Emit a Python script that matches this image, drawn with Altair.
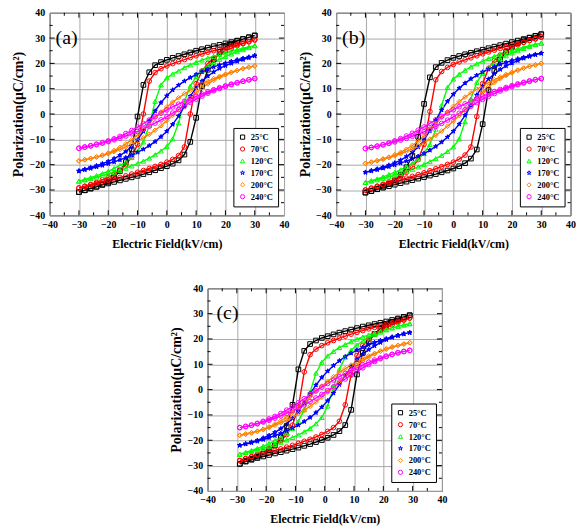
import altair as alt
import pandas as pd

TEMPS = ["25°C", "70°C", "120°C", "170°C", "200°C", "240°C"]
COLORS = ["#000000", "#ff0000", "#00ff00", "#0000ff", "#ff8000", "#ff00ff"]
STAR = "M0,-1L0.2245,-0.309L0.9511,-0.309L0.3633,0.118L0.5878,0.809L0,0.382L-0.5878,0.809L-0.3633,0.118L-0.9511,-0.309L-0.2245,-0.309Z"
SHAPES = ["square", "circle", "triangle-up", STAR, "diamond", "circle"]
AXIS_TICKS = [-40, -30, -20, -10, 0, 10, 20, 30, 40]
MAJOR_POS = [-30, -20, -10, 0, 10, 20, 30]
MINOR_POS = [-35, -25, -15, -5, 5, 15, 25, 35]

# electric field grids (kV/cm)
E_AB = list(range(-30, 31, 2))
E_C = list(range(-29, 30, 2))

# ---- panel (a): lower branch / upper branch, both listed for ascending E
a25_lo = [-30.8, -30.1, -29.4, -28.7, -28.0, -27.4, -26.8, -26.2, -25.6, -25.0, -24.4, -23.7, -23.0, -22.2, -21.4, -20.6, -19.6, -18.3, -16.0, -11.0, -1.5, 11.0, 17.5, 21.5, 24.5, 26.5, 27.8, 28.8, 29.6, 30.3, 31.0]
a25_up = [-30.8, -30.1, -29.4, -28.7, -27.8, -26.8, -25.0, -22.5, -19.0, -14.0, -1.0, 11.5, 16.5, 19.3, 20.5, 21.4, 22.2, 22.9, 23.6, 24.3, 25.0, 25.6, 26.2, 26.8, 27.3, 27.9, 28.4, 29.0, 29.6, 30.3, 31.0]
a70_lo = [-29.2, -28.6, -28.0, -27.4, -26.8, -26.2, -25.6, -25.0, -24.4, -23.7, -23.0, -22.3, -21.5, -20.7, -19.9, -19.0, -17.9, -16.4, -13.0, 0.0, 12.0, 17.0, 20.0, 22.0, 23.7, 25.0, 26.0, 27.0, 27.8, 28.5, 29.3]
a70_up = [-29.2, -28.5, -27.8, -27.0, -26.0, -25.0, -23.7, -22.0, -20.0, -17.0, -12.0, 0.0, 13.0, 16.4, 17.9, 19.0, 19.9, 20.7, 21.5, 22.3, 23.0, 23.7, 24.4, 25.0, 25.6, 26.2, 26.8, 27.4, 28.0, 28.6, 29.3]
a120_lo = [-26.5, -26.0, -25.5, -24.9, -24.3, -23.7, -23.0, -22.2, -21.4, -20.5, -19.6, -18.6, -17.4, -16.1, -14.6, -12.8, -9.8, -3.5, 5.0, 11.0, 14.8, 17.2, 19.0, 20.4, 21.6, 22.7, 23.7, 24.6, 25.4, 26.2, 27.0]
a120_up = [-26.5, -25.8, -25.1, -24.3, -23.5, -22.6, -21.5, -20.3, -19.0, -17.2, -14.8, -11.0, -4.5, 5.0, 11.5, 14.3, 15.8, 17.0, 18.3, 19.4, 20.4, 21.3, 22.1, 22.8, 23.5, 24.2, 24.8, 25.4, 26.0, 26.5, 27.0]
a170_lo = [-22.5, -22.0, -21.5, -20.9, -20.3, -19.6, -18.9, -18.1, -17.2, -16.2, -15.1, -13.9, -12.5, -10.9, -9.0, -6.8, -4.1, -0.8, 3.0, 7.0, 10.5, 13.0, 15.0, 16.6, 18.0, 19.1, 20.0, 20.8, 21.5, 22.2, 23.0]
a170_up = [-22.5, -21.8, -21.1, -20.4, -19.6, -18.7, -17.6, -16.3, -14.8, -12.8, -10.2, -6.8, -2.7, 1.2, 4.5, 7.2, 9.5, 11.4, 13.0, 14.4, 15.6, 16.7, 17.7, 18.6, 19.4, 20.1, 20.8, 21.4, 22.0, 22.5, 23.0]
a200_lo = [-18.5, -18.1, -17.6, -17.0, -16.4, -15.7, -14.9, -14.0, -13.0, -11.9, -10.7, -9.4, -8.0, -6.4, -4.6, -2.6, -0.5, 1.7, 4.0, 6.3, 8.4, 10.3, 11.9, 13.3, 14.5, 15.5, 16.4, 17.2, 17.9, 18.5, 19.0]
a200_up = [-18.5, -18.0, -17.5, -16.9, -16.2, -15.4, -14.4, -13.2, -11.8, -10.2, -8.3, -6.0, -3.6, -1.3, 0.8, 2.8, 4.7, 6.4, 8.0, 9.4, 10.7, 11.9, 13.0, 14.0, 14.9, 15.7, 16.5, 17.2, 17.9, 18.5, 19.0]
a240_lo = [-13.5, -13.1, -12.6, -12.1, -11.5, -10.9, -10.2, -9.5, -8.7, -7.8, -6.9, -5.9, -4.8, -3.6, -2.3, -1.0, 0.4, 1.8, 3.2, 4.6, 5.9, 7.1, 8.2, 9.2, 10.1, 10.9, 11.6, 12.3, 12.9, 13.5, 14.0]
a240_up = [-13.5, -13.0, -12.5, -11.9, -11.3, -10.6, -9.8, -8.8, -7.7, -6.5, -5.2, -3.8, -2.4, -1.0, 0.3, 1.6, 2.8, 3.9, 5.0, 6.0, 7.0, 7.9, 8.8, 9.6, 10.4, 11.1, 11.8, 12.4, 13.0, 13.5, 14.0]

# ---- panel (b)
b25_lo = [-31.0, -30.4, -29.7, -29.1, -28.5, -27.9, -27.3, -26.7, -26.1, -25.5, -24.9, -24.3, -23.7, -23.0, -22.3, -21.5, -20.6, -19.4, -17.6, -14.0, -4.0, 9.5, 17.0, 21.5, 24.5, 26.6, 28.0, 29.2, 30.1, 30.9, 31.5]
b25_up = [-31.0, -30.4, -29.6, -28.7, -27.6, -26.2, -24.0, -21.0, -16.5, -9.0, 4.0, 14.5, 18.5, 20.2, 21.3, 22.2, 22.9, 23.6, 24.2, 24.8, 25.4, 26.0, 26.6, 27.2, 27.8, 28.4, 29.0, 29.6, 30.2, 30.8, 31.5]
b70_lo = [-30.0, -29.3, -28.6, -28.0, -27.3, -26.7, -26.0, -25.3, -24.6, -23.9, -23.2, -22.4, -21.6, -20.8, -19.9, -19.0, -17.8, -16.2, -13.0, -1.0, 12.0, 18.0, 21.2, 23.3, 25.0, 26.3, 27.4, 28.3, 29.1, 29.8, 30.5]
b70_up = [-30.0, -29.3, -28.5, -27.7, -26.8, -25.8, -24.6, -23.0, -21.0, -18.0, -12.0, 1.0, 13.5, 16.8, 18.4, 19.6, 20.6, 21.4, 22.2, 23.0, 23.8, 24.5, 25.2, 25.9, 26.6, 27.2, 27.8, 28.4, 29.0, 29.6, 30.3]
b120_lo = [-27.0, -26.5, -26.0, -25.4, -24.8, -24.1, -23.4, -22.6, -21.8, -20.9, -19.9, -18.8, -17.6, -16.3, -14.8, -13.0, -9.8, -3.0, 6.0, 12.5, 16.0, 18.5, 20.3, 21.8, 23.0, 24.1, 25.0, 25.9, 26.7, 27.4, 28.0]
b120_up = [-27.0, -26.3, -25.6, -24.8, -23.9, -23.0, -22.0, -20.8, -19.5, -17.8, -15.5, -12.0, -6.0, 3.5, 10.5, 13.8, 15.7, 17.3, 18.6, 19.8, 20.9, 21.9, 22.8, 23.6, 24.4, 25.1, 25.8, 26.4, 27.0, 27.5, 28.0]
b170_lo = [-23.0, -22.5, -22.0, -21.4, -20.8, -20.1, -19.4, -18.6, -17.7, -16.7, -15.6, -14.3, -12.8, -11.1, -9.1, -6.8, -4.0, -0.5, 3.4, 7.5, 11.0, 13.8, 15.9, 17.6, 19.0, 20.1, 21.1, 22.0, 22.7, 23.4, 24.0]
b170_up = [-23.0, -22.4, -21.7, -21.0, -20.2, -19.3, -18.2, -16.8, -15.1, -13.0, -10.2, -6.6, -2.4, 1.6, 5.0, 7.8, 10.2, 12.2, 13.9, 15.3, 16.6, 17.7, 18.7, 19.6, 20.4, 21.1, 21.8, 22.4, 23.0, 23.5, 24.0]
b200_lo = [-19.5, -19.0, -18.5, -17.9, -17.2, -16.5, -15.7, -14.8, -13.8, -12.6, -11.3, -9.9, -8.4, -6.7, -4.8, -2.8, -0.6, 1.7, 4.1, 6.5, 8.7, 10.7, 12.4, 13.9, 15.2, 16.3, 17.3, 18.1, 18.8, 19.4, 20.0]
b200_up = [-19.5, -19.0, -18.4, -17.7, -17.0, -16.1, -15.1, -13.9, -12.4, -10.7, -8.6, -6.2, -3.7, -1.3, 0.9, 3.0, 4.9, 6.7, 8.3, 9.8, 11.2, 12.4, 13.6, 14.6, 15.6, 16.5, 17.3, 18.1, 18.8, 19.4, 20.0]
b240_lo = [-13.6, -13.2, -12.7, -12.2, -11.6, -11.0, -10.3, -9.6, -8.8, -7.9, -7.0, -6.0, -4.9, -3.7, -2.4, -1.1, 0.3, 1.7, 3.1, 4.5, 5.8, 7.0, 8.1, 9.1, 10.0, 10.8, 11.6, 12.3, 12.9, 13.5, 14.0]
b240_up = [-13.6, -13.2, -12.7, -12.1, -11.4, -10.6, -9.7, -8.7, -7.6, -6.4, -5.1, -3.7, -2.3, -0.9, 0.4, 1.7, 2.9, 4.0, 5.1, 6.1, 7.1, 8.0, 8.9, 9.7, 10.5, 11.2, 11.9, 12.5, 13.1, 13.6, 14.0]

# ---- panel (c)
c25_lo = [-29.3, -28.4, -27.7, -27.0, -26.4, -25.8, -25.2, -24.7, -24.1, -23.5, -22.9, -22.2, -21.5, -20.7, -19.9, -19.0, -17.9, -16.4, -14.0, -8.0, 6.0, 14.5, 19.0, 22.0, 24.0, 25.6, 26.8, 27.8, 28.6, 29.4]
c25_up = [-29.3, -28.3, -27.4, -26.5, -25.4, -24.0, -22.0, -19.0, -14.5, -6.0, 8.0, 15.3, 18.0, 19.4, 20.4, 21.1, 21.8, 22.5, 23.1, 23.7, 24.3, 24.9, 25.4, 25.9, 26.4, 26.9, 27.5, 28.1, 28.7, 29.3]
c70_lo = [-28.0, -27.3, -26.6, -25.9, -25.3, -24.7, -24.0, -23.4, -22.7, -22.0, -21.2, -20.4, -19.6, -18.7, -17.7, -16.5, -15.0, -12.5, -6.0, 6.0, 13.5, 17.5, 20.0, 21.9, 23.4, 24.6, 25.6, 26.5, 27.4, 28.3]
c70_up = [-28.0, -27.2, -26.4, -25.5, -24.5, -23.4, -22.0, -20.2, -17.8, -14.0, -7.0, 7.0, 13.8, 16.0, 17.4, 18.5, 19.4, 20.3, 21.1, 21.9, 22.6, 23.3, 24.0, 24.6, 25.2, 25.8, 26.4, 27.0, 27.6, 28.3]
c120_lo = [-25.5, -25.0, -24.4, -23.8, -23.1, -22.4, -21.6, -20.8, -19.9, -18.9, -17.9, -16.7, -15.3, -13.5, -11.0, -6.5, 1.0, 8.0, 12.8, 15.6, 17.6, 19.2, 20.5, 21.7, 22.7, 23.6, 24.4, 25.1, 25.6, 26.1]
c120_up = [-25.5, -24.8, -24.0, -23.2, -22.3, -21.3, -20.1, -18.8, -17.3, -15.3, -12.5, -8.0, -1.0, 6.5, 10.8, 13.3, 15.1, 16.6, 17.8, 18.9, 19.9, 20.8, 21.6, 22.4, 23.1, 23.8, 24.4, 25.0, 25.5, 26.0]
c170_lo = [-22.0, -21.5, -21.0, -20.4, -19.7, -19.0, -18.2, -17.3, -16.3, -15.2, -14.0, -12.6, -11.0, -9.1, -6.9, -4.4, -1.4, 2.0, 5.6, 9.0, 11.8, 14.0, 15.8, 17.3, 18.6, 19.7, 20.6, 21.3, 22.0, 22.5]
c170_up = [-22.0, -21.4, -20.7, -20.0, -19.1, -18.1, -16.9, -15.4, -13.6, -11.4, -8.6, -5.2, -1.6, 1.8, 4.8, 7.3, 9.5, 11.4, 13.0, 14.4, 15.6, 16.7, 17.7, 18.6, 19.4, 20.1, 20.8, 21.4, 22.0, 22.5]
c200_lo = [-18.0, -17.6, -17.1, -16.5, -15.8, -15.0, -14.1, -13.1, -12.0, -10.8, -9.5, -8.1, -6.6, -4.9, -3.0, -1.0, 1.1, 3.3, 5.5, 7.6, 9.6, 11.3, 12.8, 14.1, 15.2, 16.1, 16.9, 17.5, 18.0, 18.5]
c200_up = [-18.0, -17.5, -17.0, -16.4, -15.6, -14.7, -13.6, -12.3, -10.8, -9.0, -7.0, -4.9, -2.7, -0.6, 1.4, 3.3, 5.1, 6.8, 8.3, 9.7, 11.0, 12.2, 13.3, 14.3, 15.2, 16.0, 16.7, 17.4, 18.0, 18.5]
c240_lo = [-15.0, -14.6, -14.1, -13.5, -12.8, -12.1, -11.3, -10.4, -9.4, -8.3, -7.2, -6.0, -4.7, -3.3, -1.9, -0.4, 1.1, 2.6, 4.2, 5.7, 7.2, 8.6, 9.9, 11.1, 12.2, 13.1, 13.9, 14.6, 15.1, 15.5]
c240_up = [-15.0, -14.5, -14.0, -13.3, -12.5, -11.6, -10.6, -9.4, -8.1, -6.7, -5.2, -3.6, -2.0, -0.5, 1.0, 2.4, 3.8, 5.1, 6.4, 7.6, 8.7, 9.8, 10.8, 11.7, 12.5, 13.2, 13.9, 14.5, 15.0, 15.5]


def build_df(E, series):
    rows = []
    n = len(E)
    for temp, lo, up in series:
        assert len(lo) == n and len(up) == n, (temp, len(lo), len(up))
        for i in range(n):
            rows.append({"E": float(E[i]), "P": float(lo[i]), "temp": temp, "idx": i})
        for j in range(n):
            k = n - 1 - j
            rows.append({"E": float(E[k]), "P": float(up[k]), "temp": temp, "idx": n + j})
    return pd.DataFrame(rows)


df_a = build_df(E_AB, list(zip(TEMPS, [a25_lo, a70_lo, a120_lo, a170_lo, a200_lo, a240_lo],
                                [a25_up, a70_up, a120_up, a170_up, a200_up, a240_up])))
df_b = build_df(E_AB, list(zip(TEMPS, [b25_lo, b70_lo, b120_lo, b170_lo, b200_lo, b240_lo],
                                [b25_up, b70_up, b120_up, b170_up, b200_up, b240_up])))
df_c = build_df(E_C, list(zip(TEMPS, [c25_lo, c70_lo, c120_lo, c170_lo, c200_lo, c240_lo],
                               [c25_up, c70_up, c120_up, c170_up, c200_up, c240_up])))

W, H = 236, 204
SANS = "Liberation Sans Narrow"
SERIF = "Liberation Serif"


def panel(df, label, label_x):
    xs = alt.Scale(domain=[-40, 40], nice=False, zero=False)
    ys = alt.Scale(domain=[-40, 40], nice=False, zero=False)
    xaxis = alt.Axis(title="Electric Field(kV/cm)", titleFontSize=12, labelPadding=4,
                     titlePadding=9, grid=True, gridColor="#a8a8a8", ticks=False, domain=False,
                     labelFont=SANS, labelFontSize=10, labelFontWeight="bold", labelColor="black",
                     titleFont=SERIF, titleFontWeight="bold", titleColor="black",
                     labelFlush=False, values=AXIS_TICKS)
    yaxis = alt.Axis(title="Polarization(μC/cm²)", titleFontSize=14, labelPadding=5,
                     titlePadding=6, grid=True, gridColor="#a8a8a8", ticks=False, domain=False,
                     labelFont=SANS, labelFontSize=10, labelFontWeight="bold", labelColor="black",
                     titleFont=SERIF, titleFontWeight="bold", titleColor="black",
                     values=AXIS_TICKS, minExtent=18, maxExtent=18)
    X = alt.X("E:Q", scale=xs, axis=xaxis)
    Y = alt.Y("P:Q", scale=ys, axis=yaxis)
    leg = alt.Legend(title=None, orient="none", legendX=185, legendY=116,
                     fillColor="white", strokeColor="black", padding=5,
                     labelFont=SERIF, labelFontSize=8.5, labelFontWeight="bold", labelColor="black",
                     symbolSize=18, symbolStrokeWidth=1, rowPadding=3)

    # connecting lines, one layer per temperature (fixed colours, no legend)
    lines = [
        alt.Chart(df).transform_filter(alt.datum.temp == t).mark_line(
            color=c, strokeWidth=1.4
        ).encode(x=X, y=Y, order="idx:Q")
        for t, c in zip(TEMPS, COLORS)
    ]
    stars = alt.Chart(df).transform_filter(alt.datum.temp == "170°C").mark_point(
        shape=STAR, size=22, filled=True, color="#0000ff", opacity=1
    ).encode(x=X, y=Y)
    pts = alt.Chart(df).mark_point(size=22, strokeWidth=1, filled=False, opacity=1).encode(
        x=X, y=Y,
        color=alt.Color("temp:N", scale=alt.Scale(domain=TEMPS, range=COLORS), legend=leg),
        shape=alt.Shape("temp:N", scale=alt.Scale(domain=TEMPS, range=SHAPES), legend=leg),
    )

    ticks = []
    for vals, L in ((MAJOR_POS, 5), (MINOR_POS, 3)):
        dx = pd.DataFrame({"E": [float(v) for v in vals]})
        dy = pd.DataFrame({"P": [float(v) for v in vals]})
        ticks.append(alt.Chart(dx).mark_rule(color="black", strokeWidth=1).encode(
            x=X, y=alt.value(H), y2=alt.value(H - L)))
        ticks.append(alt.Chart(dx).mark_rule(color="black", strokeWidth=1).encode(
            x=X, y=alt.value(0), y2=alt.value(L)))
        ticks.append(alt.Chart(dy).mark_rule(color="black", strokeWidth=1).encode(
            y=Y, x=alt.value(0), x2=alt.value(L)))
        ticks.append(alt.Chart(dy).mark_rule(color="black", strokeWidth=1).encode(
            y=Y, x=alt.value(W), x2=alt.value(W - L)))

    lab = alt.Chart(pd.DataFrame({"t": [label]})).mark_text(
        font=SERIF, fontSize=20, align="left", baseline="middle", color="black"
    ).encode(text="t:N", x=alt.value(label_x), y=alt.value(25))

    return alt.layer(*lines, stars, pts, *ticks, lab).properties(width=W, height=H)


pa = panel(df_a, "(a)", 6)
pb = panel(df_b, "(b)", 6)
pc = panel(df_c, "(c)", 9)

spacer = alt.Chart(pd.DataFrame({"z": [0]})).mark_point(opacity=0).encode(
    x=alt.value(0), y=alt.value(0)
).properties(width=119, height=10, view=alt.ViewBackground(stroke="transparent"))

top_row = alt.hconcat(pa, pb, spacing=7.5).resolve_scale(
    color="independent", shape="independent", x="independent", y="independent")
bottom_row = alt.hconcat(spacer, pc, spacing=0).resolve_scale(
    color="independent", shape="independent", x="independent", y="independent")

chart = alt.vconcat(top_row, bottom_row, spacing=32.5).resolve_scale(
    color="independent", shape="independent", x="independent", y="independent",
).properties(
    padding={"left": 11, "top": 5, "right": 0, "bottom": 0},
    background="white",
).configure_view(stroke="black", strokeWidth=1)

chart.save("out.html", embed_options={"renderer": "svg", "actions": False})
